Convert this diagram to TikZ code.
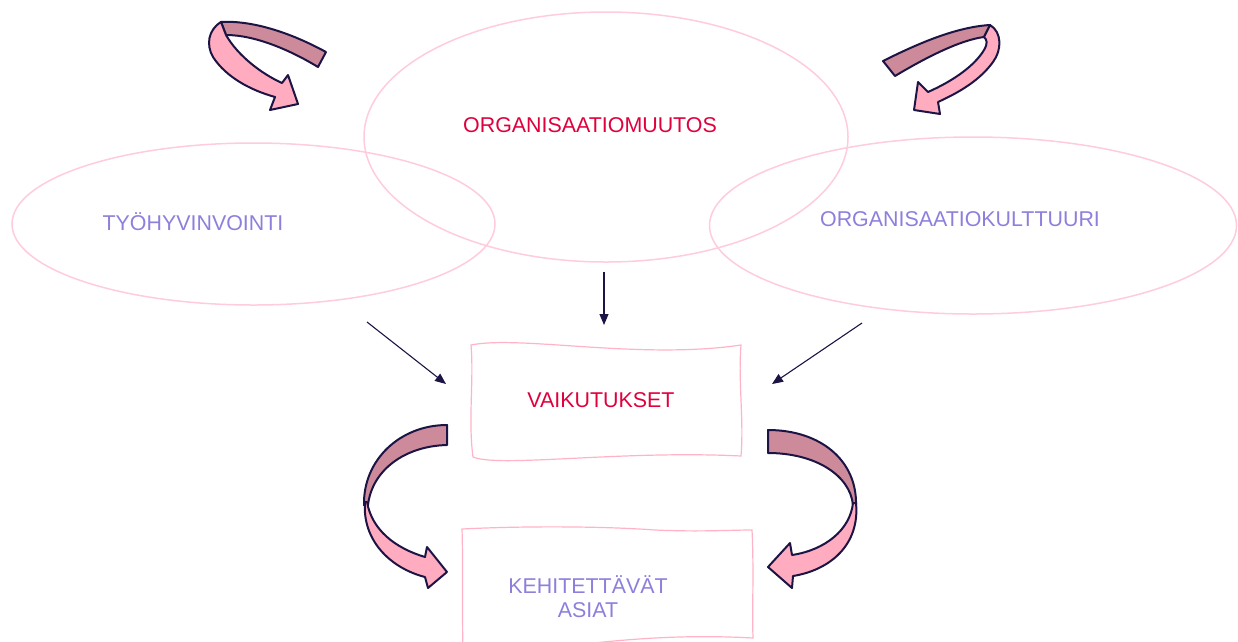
\documentclass[tikz,border=0pt]{standalone}
\usepackage{fontspec}
\setmainfont{Liberation Sans}
\usetikzlibrary{shapes.geometric,arrows.meta}
\definecolor{ellpink}{HTML}{FFCCDC}
\definecolor{boxpink}{HTML}{FFB3C6}
\definecolor{txtred}{HTML}{E0003C}
\definecolor{txtpurple}{HTML}{8C80DC}
\definecolor{navy}{HTML}{1C1444}
\definecolor{mauve}{HTML}{CC8A9A}
\definecolor{lightpink}{HTML}{FFABC0}
\tikzset{
  ell/.style={draw=ellpink, line width=1.5pt, ellipse, inner sep=0pt},
  lbl/.style={font=\fontsize{21.4}{25}\selectfont, inner sep=0pt},
  redlbl/.style={lbl, text=txtred},
  purplbl/.style={lbl, text=txtpurple, align=center},
  wavebox/.style={draw=boxpink, line width=1.2pt},
  thinarrow/.style={draw=navy, line width=1.1pt, -{Triangle[length=11pt,width=9pt]}},
  ribbonback/.style={fill=mauve, draw=navy, line width=2pt, line join=round},
  ribbonfront/.style={fill=lightpink, draw=navy, line width=2pt, line join=round}
}
\begin{document}
\begin{tikzpicture}[x=1pt,y=-1pt]
\useasboundingbox (0,0) rectangle (1238,641);
\clip (0,0) rectangle (1238,641);
% ellipses
\node[ell, minimum width=483pt, minimum height=162pt] (ty) at (253.5,224) {};
\node[ell, minimum width=484pt, minimum height=250pt] (om) at (606,137) {};
\node[ell, minimum width=527pt, minimum height=177pt] (ok) at (973,225.5) {};
% labels
\node[redlbl] (omt) at (590,125) {ORGANISAATIOMUUTOS};
\node[purplbl] (tyt) at (193,222) {TYÖHYVINVOINTI};
\node[purplbl] (okt) at (960,219) {ORGANISAATIOKULTTUURI};
% wavy boxes
\draw[wavebox] (471,345) .. controls (520,335) and (640,360) .. (741,345)
  .. controls (738,380) and (744,420) .. (741,456)
  .. controls (620,450) and (500,468) .. (473,457)
  .. controls (468,420) and (474,380) .. (471,345) -- cycle;
\node[redlbl] (vk) at (601,400) {VAIKUTUKSET};
\draw[wavebox] (462,529) .. controls (520,526) and (600,526) .. (655,530)
  .. controls (700,532) and (730,530) .. (752,530)
  .. controls (754,570) and (752,610) .. (753,638)
  .. controls (680,634) and (600,638) .. (463,662)
  .. controls (462,600) and (463,560) .. (462,529) -- cycle;
\node[purplbl, font=\fontsize{21.4}{24}\selectfont] (ke) at (588,597) {KEHITETTÄVÄT\\ASIAT};
% straight arrows
\coordinate (a1s) at (604,272); \coordinate (a1e) at (604,325);
\coordinate (a2s) at (367,322); \coordinate (a2e) at (446,384);
\coordinate (a3s) at (862,323); \coordinate (a3e) at (772,384);
\draw[thinarrow] (a1s) -- (a1e);
\draw[thinarrow] (a2s) -- (a2e);
\draw[thinarrow] (a3s) -- (a3e);
% top-left ribbon
\draw[ribbonback] (221,22) .. controls (255,20) and (295,35) .. (326,52) -- (318,67)
  .. controls (290,50) and (255,35) .. (226,35) -- cycle;
\draw[ribbonfront] (221,22) .. controls (208,30) and (206,45) .. (213,57)
  .. controls (226,77) and (250,90) .. (275,97) -- (270,110) -- (298,104) -- (288,75) -- (282,83)
  .. controls (262,74) and (238,56) .. (226,35) -- cycle;
% top-right ribbon
\draw[ribbonback] (883,61) .. controls (915,45) and (955,27) .. (990,25) -- (984,37)
  .. controls (960,40) and (925,58) .. (895,76) -- cycle;
\draw[ribbonfront] (990,25) .. controls (1002,32) and (1002,50) .. (993,62)
  .. controls (980,80) and (960,92) .. (938,102) -- (940,114) -- (914,110) -- (918,82) -- (928,92)
  .. controls (955,80) and (975,65) .. (984,50) .. controls (988,43) and (987,40) .. (984,37) -- cycle;
% bottom-left ribbon
\draw[ribbonback] (447,425) -- (447,445) .. controls (405,446) and (372,470) .. (368,505)
  -- (364,505) .. controls (363,460) and (400,425) .. (447,425) -- cycle;
\draw[ribbonfront] (365,502) .. controls (362,540) and (390,568) .. (425,577) -- (428,588) -- (447,572)
  -- (427,547) -- (425,557) .. controls (395,548) and (372,530) .. (367,502) -- cycle;
% bottom-right ribbon
\draw[ribbonback] (768,430) .. controls (820,430) and (857,460) .. (856,505) -- (853,505)
  .. controls (850,475) and (815,453) .. (768,453) -- cycle;
\draw[ribbonfront] (856,503) .. controls (860,545) and (830,570) .. (793,576) -- (792,588) -- (768,567)
  -- (790,543) -- (792,555) .. controls (825,550) and (850,530) .. (853,503) -- cycle;
\end{tikzpicture}
\end{document}
